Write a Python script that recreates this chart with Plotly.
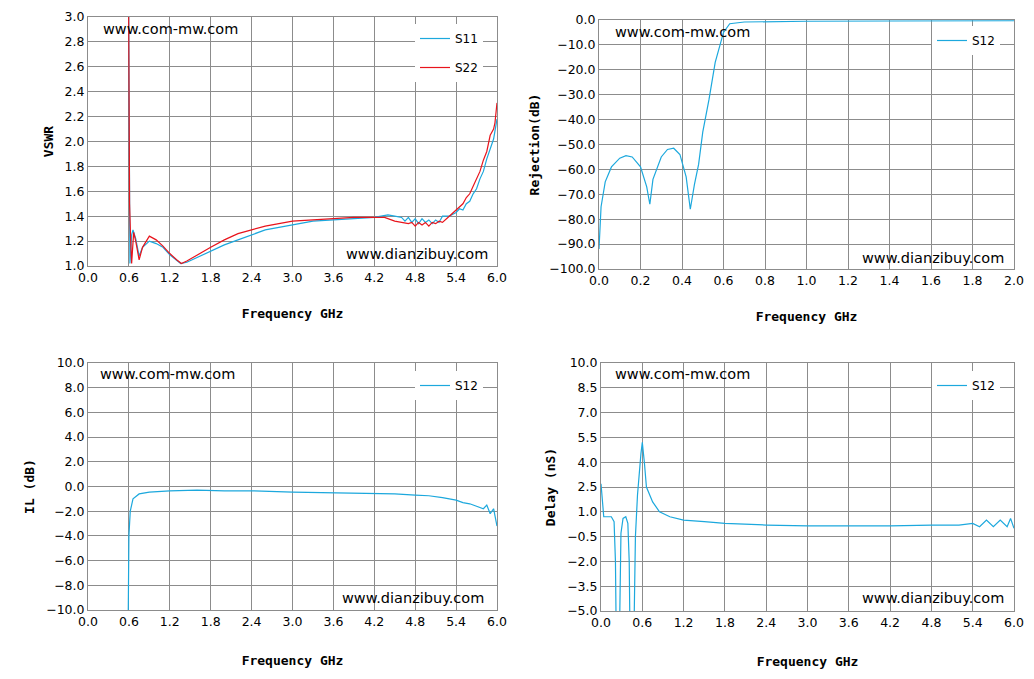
import plotly.graph_objects as go

# VSWR
s11_f = [0.595,0.605,0.615,0.64,0.66,0.7,0.75,0.8,0.9,1.0,1.1,1.2,1.3,1.36,1.45,1.6,1.8,2.0,2.2,2.4,2.6,2.8,3.0,3.3,3.6,3.9,4.2,4.3,4.4,4.5,4.6,4.65,4.7,4.75,4.8,4.85,4.9,4.95,5.0,5.05,5.1,5.15,5.2,5.3,5.4,5.45,5.5,5.55,5.6,5.65,5.7,5.75,5.8,5.85,5.9,5.95,6.0]
s11_v = [3.2,1.6,1.02,1.25,1.29,1.22,1.08,1.15,1.20,1.18,1.15,1.09,1.05,1.02,1.03,1.07,1.12,1.17,1.21,1.25,1.29,1.31,1.33,1.36,1.37,1.38,1.39,1.40,1.41,1.40,1.39,1.36,1.39,1.35,1.38,1.34,1.38,1.35,1.37,1.34,1.37,1.35,1.40,1.40,1.43,1.46,1.45,1.50,1.52,1.58,1.62,1.70,1.76,1.86,1.95,2.02,2.18]
s22_f = [0.595,0.61,0.625,0.64,0.67,0.7,0.75,0.8,0.9,1.0,1.1,1.2,1.3,1.37,1.45,1.6,1.8,2.0,2.2,2.4,2.6,2.8,3.0,3.3,3.6,3.9,4.2,4.35,4.5,4.6,4.7,4.75,4.8,4.85,4.9,4.95,5.0,5.05,5.1,5.15,5.2,5.3,5.4,5.45,5.5,5.55,5.6,5.65,5.7,5.75,5.8,5.85,5.9,5.95,5.97,6.0]
s22_v = [3.2,1.5,1.22,1.02,1.27,1.20,1.05,1.15,1.24,1.21,1.16,1.10,1.05,1.02,1.04,1.09,1.15,1.21,1.26,1.29,1.32,1.34,1.36,1.37,1.38,1.39,1.39,1.39,1.36,1.35,1.34,1.35,1.32,1.35,1.33,1.35,1.32,1.35,1.34,1.36,1.35,1.40,1.45,1.47,1.50,1.55,1.58,1.64,1.70,1.76,1.85,1.92,2.05,2.10,2.15,2.31]
# Rejection
rej_f = [0,0.01,0.03,0.06,0.1,0.13,0.16,0.2,0.23,0.245,0.26,0.3,0.33,0.36,0.39,0.42,0.44,0.46,0.48,0.5,0.53,0.56,0.6,0.63,0.7,0.8,1.0,1.4,2.0]
rej_v = [-92,-75,-65,-59,-55.5,-54.5,-55,-59,-67,-74,-64,-55,-52,-51.5,-54,-63,-76,-66,-58,-45,-32,-17,-5,-1.5,-0.8,-0.6,-0.5,-0.4,-0.3]
# Insertion loss
il_f = [0.59,0.6,0.62,0.66,0.75,0.9,1.2,1.6,2.0,2.4,3.0,3.6,4.2,4.5,4.8,5.0,5.2,5.4,5.5,5.6,5.7,5.8,5.85,5.9,5.95,6.0]
il_v = [-10.5,-4.0,-2.0,-1.0,-0.6,-0.45,-0.35,-0.3,-0.35,-0.35,-0.45,-0.5,-0.55,-0.6,-0.7,-0.75,-0.9,-1.1,-1.3,-1.4,-1.6,-1.8,-1.5,-2.2,-1.8,-3.2]
# Group delay
gd_f = [0,0.03,0.04,0.15,0.19,0.21,0.22,0.27,0.29,0.32,0.36,0.39,0.41,0.42,0.48,0.5,0.53,0.58,0.6,0.63,0.66,0.75,0.85,1.0,1.2,1.5,1.8,2.4,3.0,3.6,4.2,4.8,5.2,5.4,5.5,5.6,5.7,5.8,5.9,5.95,6.0]
gd_v = [2.7,1.5,0.7,0.7,0.4,-2.0,-6,-6,-0.3,0.6,0.7,0.3,-2.0,-6,-6,-0.5,2.0,4.5,5.2,4.0,2.5,1.6,1.0,0.7,0.5,0.4,0.3,0.2,0.15,0.15,0.15,0.2,0.2,0.3,0.1,0.5,0.1,0.5,0.1,0.6,0.0]

W, H, OFF = 1034, 679, 8
def px(x): return (x - OFF) / W
def py(y): return 1 - (y - OFF) / H

blue = "#1CA8DD"; red = "#E8141C"; grid = "#8C8C8C"
fig = go.Figure()
fig.add_trace(go.Scatter(x=s11_f, y=s11_v, name="S11", legendgroup="a", line=dict(color=blue, width=1.2), xaxis="x", yaxis="y", legend="legend"))
fig.add_trace(go.Scatter(x=s22_f, y=s22_v, name="S22", legendgroup="b", line=dict(color=red, width=1.2), xaxis="x", yaxis="y", legend="legend"))
fig.add_trace(go.Scatter(x=rej_f, y=rej_v, name="S12", line=dict(color=blue, width=1.2), xaxis="x2", yaxis="y2", legend="legend2"))
fig.add_trace(go.Scatter(x=il_f, y=il_v, name="S12", line=dict(color=blue, width=1.2), xaxis="x3", yaxis="y3", legend="legend3"))
fig.add_trace(go.Scatter(x=gd_f, y=gd_v, name="S12", line=dict(color=blue, width=1.2), xaxis="x4", yaxis="y4", legend="legend4"))

tf = dict(family="DejaVu Sans", size=12.5, color="#000")
titf = dict(family="DejaVu Sans Mono", size=13, color="#000", weight="bold")
def ax(dom, rng, dt, title, anchor, standoff):
    return dict(domain=dom, range=rng, dtick=dt, tick0=rng[0], tickformat=".1f", showgrid=True, gridcolor=grid, gridwidth=1,
                showline=True, linecolor=grid, mirror=True, zeroline=False, tickfont=tf, ticks="", automargin=False,
                title=dict(text=title, font=titf, standoff=standoff), anchor=anchor)

fig.update_layout(
    width=W, height=H, margin=dict(l=0, r=0, t=0, b=0),
    paper_bgcolor="white", plot_bgcolor="white",
    xaxis=ax([px(88), px(497)], [0, 6], 0.6, "Frequency GHz", "y", 24),
    yaxis=ax([py(266), py(17)], [1, 3], 0.2, "VSWR", "x", 8),
    xaxis2=ax([px(599), px(1014)], [0, 2], 0.2, "Frequency GHz", "y2", 24),
    yaxis2=ax([py(269), py(20)], [-100, 0], 10, "Rejection(dB)", "x2", 6),
    xaxis3=ax([px(88), px(497)], [0, 6], 0.6, "Frequency GHz", "y3", 27),
    yaxis3=ax([py(610), py(363)], [-10, 10], 2, "IL (dB)", "x3", 8),
    xaxis4=ax([px(601), px(1014)], [0, 6], 0.6, "Frequency GHz", "y4", 27),
    yaxis4=ax([py(611), py(363)], [-5, 10], 1.5, "Delay (nS)", "x4", 8),
    showlegend=True,
)
lg = dict(bgcolor="white", borderwidth=0, font=dict(family="DejaVu Sans", size=12, color="#000"),
          xanchor="left", yanchor="top", itemwidth=30, tracegroupgap=10)
fig.update_layout(
    legend=dict(lg, x=px(415), y=py(24)),
    legend2=dict(lg, x=px(932), y=py(26)),
    legend3=dict(lg, x=px(415), y=py(371)),
    legend4=dict(lg, x=px(932), y=py(371)),
)
wf = dict(family="DejaVu Sans", size=14.5, color="#000")
for (x, y) in [(101, 19), (613, 22), (98, 364), (613, 364)]:
    fig.add_annotation(text="www.com-mw.com", x=px(x), y=py(y), xref="paper", yref="paper",
                       xanchor="left", yanchor="top", showarrow=False, font=wf)
for (x, y) in [(490, 264), (1006, 268), (486, 608), (1006, 608)]:
    fig.add_annotation(text="www.dianzibuy.com", x=px(x), y=py(y), xref="paper", yref="paper",
                       xanchor="right", yanchor="bottom", showarrow=False, font=wf)
fig.write_html("out.html")
